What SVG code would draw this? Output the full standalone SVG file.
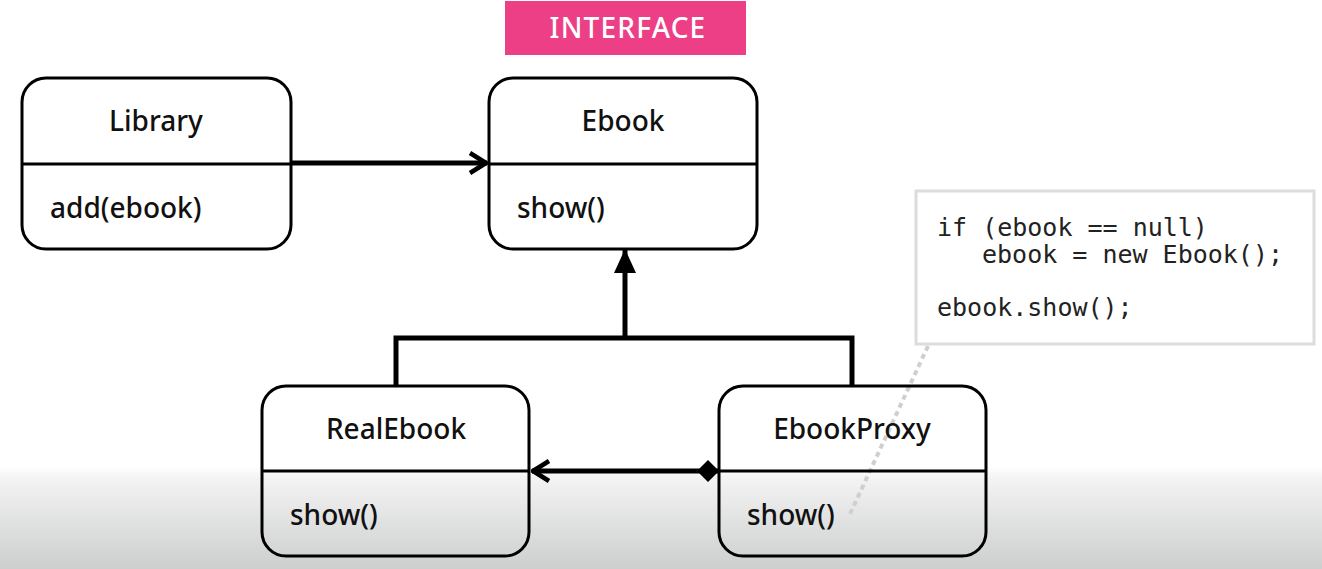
<svg xmlns="http://www.w3.org/2000/svg" width="1322" height="569" viewBox="0 0 1322 569">
<defs>
<linearGradient id="bg" x1="0" y1="0" x2="0" y2="1">
<stop offset="0" stop-color="#ffffff"/>
<stop offset="0.12" stop-color="#f3f3f3"/>
<stop offset="1" stop-color="#cdcece"/>
</linearGradient>
<marker id="open" viewBox="0 0 20 24" refX="19" refY="12" markerWidth="20" markerHeight="24" markerUnits="userSpaceOnUse" orient="auto">
<path d="M2 2 L18 12 L2 22" fill="none" stroke="#000" stroke-width="4.5"/>
</marker>
<marker id="tri" viewBox="0 0 24 22" refX="23" refY="11" markerWidth="24" markerHeight="22" markerUnits="userSpaceOnUse" orient="auto">
<path d="M0 0 L24 11 L0 22 Z" fill="#000"/>
</marker>
<marker id="dia" viewBox="0 0 22 22" refX="0" refY="11" markerWidth="22" markerHeight="22" markerUnits="userSpaceOnUse" orient="auto">
<path d="M0 11 L11 0 L22 11 L11 22 Z" fill="#000"/>
</marker>
</defs>
<style>
.box{fill:none;stroke:#000;stroke-width:3}
.div{stroke:#000;stroke-width:3}
.title{font-family:"Noto Sans","Liberation Sans",sans-serif;font-size:28px;font-weight:500;fill:#111;text-anchor:middle}
.op{font-family:"Noto Sans","Liberation Sans",sans-serif;font-size:28px;font-weight:500;fill:#111}
.code{font-family:"DejaVu Sans Mono","Liberation Mono",monospace;font-size:25px;fill:#222}
.conn{fill:none;stroke:#000;stroke-width:5}
</style>
<rect x="0" y="0" width="1322" height="569" fill="#fff"/>
<rect x="0" y="466" width="1322" height="103" fill="url(#bg)"/>

<g id="interface-label">
<rect x="505" y="1" width="241" height="54" fill="#ec3f86"/>
<text x="628" y="38" font-family="Noto Sans, Liberation Sans, sans-serif" font-size="28" font-weight="500" fill="#fff" text-anchor="middle" letter-spacing="1.2">INTERFACE</text>
</g>

<g id="connectors">
<line class="conn" x1="292" y1="163" x2="487" y2="163" marker-end="url(#open)"/>
<polyline class="conn" points="396,386 396,338 852,338 852,386"/>
<line class="conn" x1="625" y1="338" x2="625" y2="250" marker-end="url(#tri)"/>
<line class="conn" x1="719" y1="471" x2="532" y2="471" marker-start="url(#dia)" marker-end="url(#open)"/>
<line x1="928" y1="346" x2="850" y2="514" stroke="#cfcfcf" stroke-width="4" stroke-dasharray="5 4"/>
</g>

<g id="Library">
<rect class="box" x="22" y="78" width="269" height="171" rx="24"/>
<line class="div" x1="22" y1="164" x2="291" y2="164"/>
<text class="title" x="156" y="131">Library</text>
<text class="op" x="50" y="218">add(ebook)</text>
</g>

<g id="Ebook">
<rect class="box" x="489" y="78" width="268" height="171" rx="24"/>
<line class="div" x1="489" y1="164" x2="757" y2="164"/>
<text class="title" x="623" y="131">Ebook</text>
<text class="op" x="517" y="218">show()</text>
</g>

<g id="RealEbook">
<rect class="box" x="262" y="386" width="267" height="170" rx="24"/>
<line class="div" x1="262" y1="471" x2="529" y2="471"/>
<text class="title" x="396" y="439">RealEbook</text>
<text class="op" x="290" y="525">show()</text>
</g>

<g id="EbookProxy">
<rect class="box" x="719" y="386" width="267" height="170" rx="24"/>
<line class="div" x1="719" y1="471" x2="986" y2="471"/>
<text class="title" x="852" y="439">EbookProxy</text>
<text class="op" x="747" y="525">show()</text>
</g>

<g id="note">
<rect x="916" y="191" width="398" height="153" fill="#fff" stroke="#dcdcdc" stroke-width="3"/>
<text class="code" x="937" y="236">if (ebook == null)</text>
<text class="code" x="982" y="263">ebook = new Ebook();</text>
<text class="code" x="937" y="316">ebook.show();</text>
</g>
</svg>
